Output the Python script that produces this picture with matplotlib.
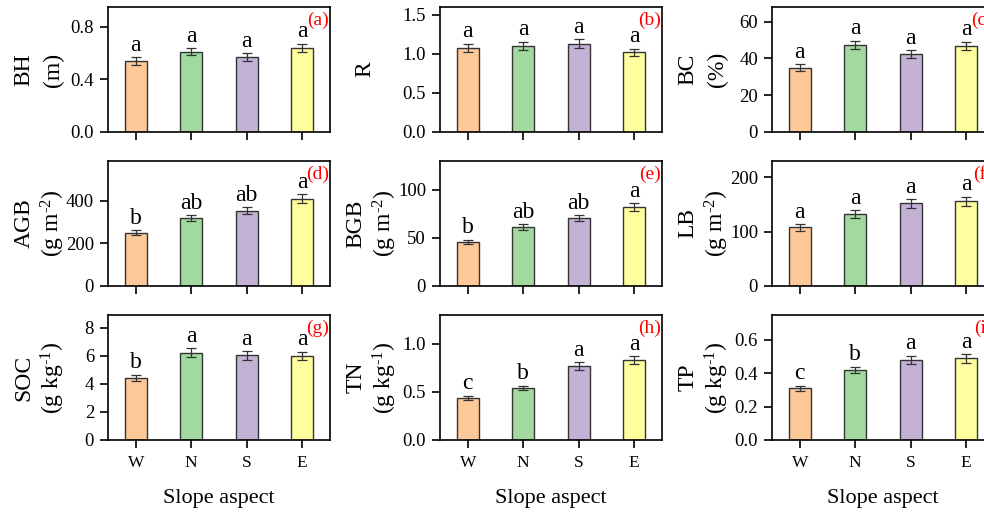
import matplotlib
matplotlib.use('Agg')
import matplotlib.pyplot as plt

plt.rcParams['font.family'] = ['Liberation Serif', 'DejaVu Serif']
plt.rcParams['mathtext.default'] = 'regular'

# slope aspects and bar colours
aspects = ['W', 'N', 'S', 'E']
bar_colors = ['#FDC998', '#A2D99E', '#C3B2D5', '#FFFE9E']

# mean values
bh = [0.54, 0.61, 0.57, 0.64]
r_ratio = [1.08, 1.10, 1.13, 1.02]
bc = [35.0, 47.3, 42.3, 46.8]
agb = [249, 316, 353, 409]
bgb = [45.8, 61.3, 70.8, 82.3]
lb = [108, 133, 152, 156]
soc = [4.44, 6.22, 6.02, 5.98]
tn = [0.44, 0.54, 0.77, 0.83]
tp = [0.31, 0.42, 0.48, 0.49]

# standard errors
bh_err = [0.028, 0.028, 0.028, 0.032]
r_err = [0.05, 0.055, 0.055, 0.045]
bc_err = [1.8, 2.3, 2.1, 2.3]
agb_err = [12, 14, 17, 20]
bgb_err = [2.2, 3.0, 2.8, 3.8]
lb_err = [6, 7, 8, 8]
soc_err = [0.22, 0.3, 0.3, 0.3]
tn_err = [0.02, 0.025, 0.04, 0.04]
tp_err = [0.015, 0.02, 0.025, 0.025]

# significance letters
bh_sig = ['a', 'a', 'a', 'a']
r_sig = ['a', 'a', 'a', 'a']
bc_sig = ['a', 'a', 'a', 'a']
agb_sig = ['b', 'ab', 'ab', 'a']
bgb_sig = ['b', 'ab', 'ab', 'a']
lb_sig = ['a', 'a', 'a', 'a']
soc_sig = ['b', 'a', 'a', 'a']
tn_sig = ['c', 'b', 'a', 'a']
tp_sig = ['c', 'b', 'a', 'a']

gm2 = '(g m$^{\u20102}$)'
gkg = '(g kg$^{\u20101}$)'
panels = [
    ('BH', '(m)', bh, bh_err, bh_sig, (0, 0.95), [0.0, 0.4, 0.8], '{:.1f}', '(a)'),
    ('R', None, r_ratio, r_err, r_sig, (0, 1.6), [0.0, 0.5, 1.0, 1.5], '{:.1f}', '(b)'),
    ('BC', '(%)', bc, bc_err, bc_sig, (0, 68), [0, 20, 40, 60], '{:.0f}', '(c)'),
    ('AGB', gm2, agb, agb_err, agb_sig, (0, 585), [0, 200, 400], '{:.0f}', '(d)'),
    ('BGB', gm2, bgb, bgb_err, bgb_sig, (0, 130), [0, 50, 100], '{:.0f}', '(e)'),
    ('LB', gm2, lb, lb_err, lb_sig, (0, 230), [0, 100, 200], '{:.0f}', '(f)'),
    ('SOC', gkg, soc, soc_err, soc_sig, (0, 8.9), [0, 2, 4, 6, 8], '{:.0f}', '(g)'),
    ('TN', gkg, tn, tn_err, tn_sig, (0, 1.3), [0.0, 0.5, 1.0], '{:.1f}', '(h)'),
    ('TP', gkg, tp, tp_err, tp_sig, (0, 0.75), [0.0, 0.2, 0.4, 0.6], '{:.1f}', '(i)'),
]

fig = plt.figure(figsize=(9.84, 5.14), dpi=100)
W, H = 984, 514
col_left = [108, 440, 772]
row_top = [7, 161, 315]
ax_w, ax_h = 222, 125

xpos = [1, 2, 3, 4]
for i, (name, unit, vals, errs, sig, ylim, yticks, fmt, tag) in enumerate(panels):
    row, col = divmod(i, 3)
    ax = fig.add_axes([col_left[col] / W, 1 - (row_top[row] + ax_h) / H, ax_w / W, ax_h / H])
    ax.bar(xpos, vals, width=0.4, color=bar_colors, edgecolor='#333333', linewidth=1.0, zorder=2)
    ax.errorbar(xpos, vals, yerr=errs, fmt='none', ecolor='#333333', elinewidth=0.9,
                capsize=3.5, capthick=0.9, zorder=3)
    for x, v, e, s in zip(xpos, vals, errs, sig):
        ax.annotate(s, (x, v + e), xytext=(0, 1), textcoords='offset points',
                    ha='center', va='bottom', fontsize=17)
    ax.set_xlim(0.5, 4.5)
    ax.set_ylim(*ylim)
    ax.set_yticks(yticks)
    ax.set_yticklabels([fmt.format(t) for t in yticks])
    ax.set_xticks(xpos)
    if row == 2:
        ax.set_xticklabels(aspects)
        ax.set_xlabel('Slope aspect', fontsize=16, labelpad=13)
    else:
        ax.set_xticklabels([])
    ax.tick_params(axis='both', direction='out', length=6, width=1.2, pad=4)
    ax.tick_params(axis='y', labelsize=13.5)
    ax.tick_params(axis='x', labelsize=12.5, pad=5)
    for sp in ax.spines.values():
        sp.set_linewidth(1.2)
    if unit is None:
        ax.text(-75 / ax_w, 0.5, name, transform=ax.transAxes, rotation=90,
                ha='center', va='center', fontsize=17)
    else:
        ax.text(-84 / ax_w, 0.5, name, transform=ax.transAxes, rotation=90,
                ha='center', va='center', fontsize=17)
        ax.text(-55 / ax_w, 0.5, unit, transform=ax.transAxes, rotation=90,
                ha='center', va='center', fontsize=17)
    ax.text(0.995, 0.965, tag, transform=ax.transAxes, ha='right', va='top',
            color='red', fontsize=14)

fig.savefig('out.png', dpi=100)
